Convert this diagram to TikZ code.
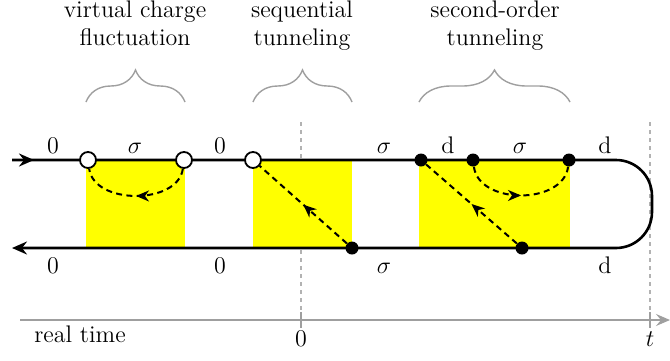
\documentclass[tikz,border=0pt]{standalone}
\usetikzlibrary{arrows.meta,decorations.markings,decorations.pathreplacing}
\definecolor{ivyellow}{RGB}{255,255,0}
\tikzset{
  keldysh/.style={line width=1.3pt},
  vopen/.style={circle,draw,fill=white,line width=0.9pt,minimum size=8pt,inner sep=0pt},
  vfull/.style={circle,fill,minimum size=6.5pt,inner sep=0pt},
  tunnel/.style={line width=1pt,dash pattern=on 3pt off 2.2pt,postaction={decorate},
    decoration={markings,mark=at position 0.5 with {\arrow{Stealth[length=6.5pt,width=5.5pt,inset=2pt]}}}},
  interval/.style={fill=ivyellow,draw=none},
  timeline/.style={gray!75,line width=0.6pt},
  cbrace/.style={gray!75,line width=0.7pt,decorate,decoration={brace,amplitude=16pt}},
  lbl/.style={anchor=base,inner sep=0pt},
}
\begin{document}
\begin{tikzpicture}[x=0.5pt,y=-0.5pt,font=\large]
\useasboundingbox (0,0) rectangle (670,360);
% time axis
\draw[timeline,gray!60,dash pattern=on 2pt off 2pt] (301,122) -- (301,312);
\draw[timeline,gray!60,dash pattern=on 2pt off 2pt] (650,122) -- (650,312);
\draw[timeline,-{Stealth[length=7pt,width=6pt,inset=2.5pt]}] (20,320) -- (670,320);
\draw[timeline] (301,312) -- (301,328);
\draw[timeline] (650,312) -- (650,328);
\node[lbl] (zero) at (301,346) {$0$};
\node[lbl] (tend) at (650,346) {$t$};
\node[lbl] (rt) at (80,342) {real time};
% intervals
\fill[interval] (86,160) rectangle (185,248);
\fill[interval] (253,160) rectangle (352,248);
\fill[interval] (419,160) rectangle (570,248);
% contour
\coordinate (in) at (12,160);
\coordinate (out) at (12,248);
\draw[keldysh,rounded corners=18pt,-{Stealth[length=7.5pt,width=6.5pt,inset=2.5pt]}]
  (in) -- (652,160) -- (652,248) -- (out);
\draw[keldysh,-{Stealth[length=7.5pt,width=6.5pt,inset=2.5pt]}] (in) -- (34,160);
% vertices
\node[vopen] (a1) at (88,160) {};
\node[vopen] (a2) at (184,160) {};
\node[vopen] (a3) at (253,160) {};
\node[vfull] (b1) at (352,248) {};
\node[vfull] (c1) at (421,160) {};
\node[vfull] (c2) at (473,160) {};
\node[vfull] (c3) at (569,160) {};
\node[vfull] (c4) at (522,248) {};
% tunneling lines
\draw[tunnel] (a2) .. controls (178,205) and (94,205) .. (a1);
\draw[tunnel] (b1) -- (a3);
\draw[tunnel] (c2) .. controls (479,205) and (563,205) .. (c3);
\draw[tunnel] (c4) -- (c1);
% states
\node[lbl] (s1) at (53,153) {$0$};
\node[lbl] (s2) at (135,153) {$\sigma$};
\node[lbl] (s3) at (220,153) {$0$};
\node[lbl] (s4) at (384,153) {$\sigma$};
\node[lbl] (s5) at (448,153) {d};
\node[lbl] (s6) at (520,153) {$\sigma$};
\node[lbl] (s7) at (605,153) {d};
\node[lbl] (t1) at (53,273) {$0$};
\node[lbl] (t2) at (220,273) {$0$};
\node[lbl] (t3) at (384,273) {$\sigma$};
\node[lbl] (t4) at (605,273) {d};
% processes
\draw[cbrace] (86,102) -- (185,102);
\draw[cbrace] (253,102) -- (352,102);
\draw[cbrace] (419,102) -- (570,102);
\node[align=center,anchor=north,inner sep=0pt] (p1) at (135,0) {virtual charge\\fluctuation};
\node[align=center,anchor=north,inner sep=0pt] (p2) at (302,0) {sequential\\tunneling};
\node[align=center,anchor=north,inner sep=0pt] (p3) at (495,0) {second-order\\tunneling};
\end{tikzpicture}
\end{document}
